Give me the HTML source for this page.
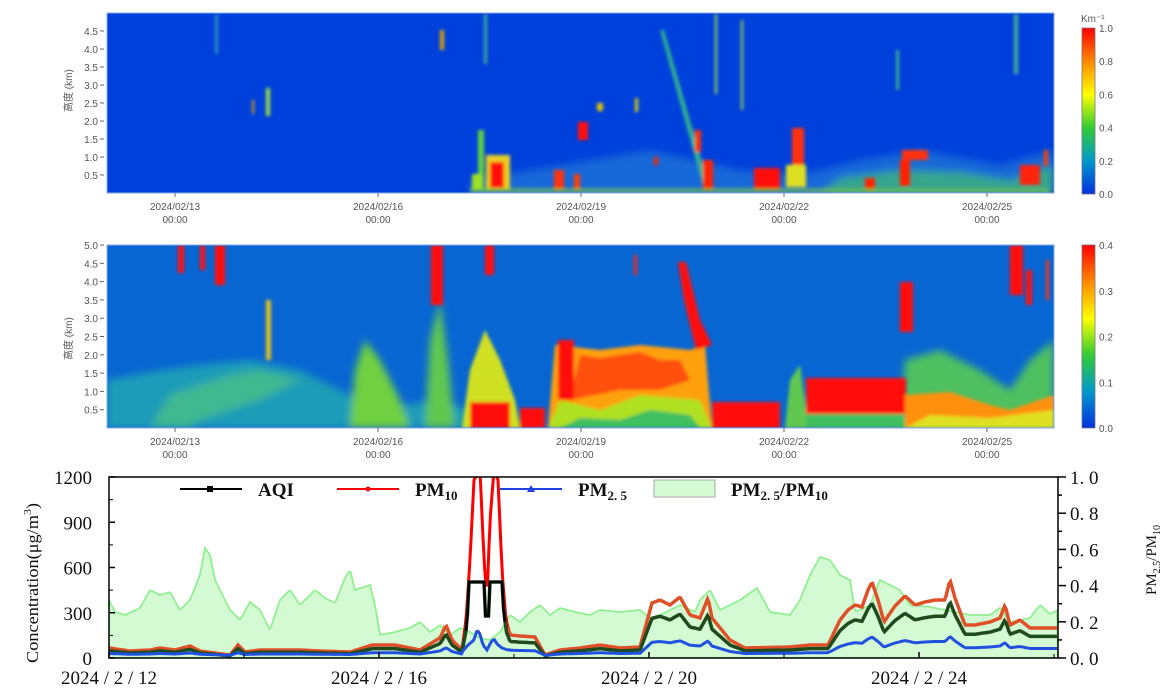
<!DOCTYPE html>
<html><head><meta charset="utf-8"><style>
html,body{margin:0;padding:0;background:#fff;}
svg{display:block;}
.t{font-family:"Liberation Sans","Noto Sans CJK SC",sans-serif;font-size:10px;fill:#555;}
.s{font-family:"Liberation Serif","DejaVu Serif",serif;fill:#111;}
</style></head><body>
<svg id="c" width="1173" height="693" viewBox="0 0 1173 693" xmlns="http://www.w3.org/2000/svg">
<defs>
<linearGradient id="jet" x1="0" y1="1" x2="0" y2="0">
<stop offset="0" stop-color="#0030e0"/><stop offset="0.2" stop-color="#0099cc"/>
<stop offset="0.4" stop-color="#33cc33"/><stop offset="0.6" stop-color="#ffff00"/>
<stop offset="0.8" stop-color="#ff8800"/><stop offset="1" stop-color="#ff0000"/>
</linearGradient>
<filter id="bl" x="-20%" y="-20%" width="140%" height="140%"><feGaussianBlur stdDeviation="1.6"/></filter>
<filter id="bl2" x="-20%" y="-20%" width="140%" height="140%"><feGaussianBlur stdDeviation="4"/></filter>
<clipPath id="p1"><rect x="107" y="13" width="947" height="180"/></clipPath>
<clipPath id="p2"><rect x="107" y="245" width="947" height="183"/></clipPath>
<clipPath id="p3"><rect x="109" y="477" width="949" height="181"/></clipPath>
</defs>

<!-- PANEL 1 -->
<rect x="107" y="13" width="947" height="180" fill="#0040dc"/>
<g clip-path="url(#p1)">
<g filter="url(#bl2)" opacity="0.85">
<polygon points="470,193 470,180 560,165 650,150 740,170 800,175 860,160 920,150 1000,165 1054,150 1054,193" fill="#1a70d8"/>
<polygon points="820,193 840,178 900,170 960,172 1010,180 1054,165 1054,193" fill="#40b880"/>
</g>
<g filter="url(#bl)">
<rect x="266" y="88" width="4" height="28" fill="#a0e040"/>
<rect x="252" y="100" width="2" height="14" fill="#e0a000"/>
<polygon points="660,30 664,30 710,190 704,190" fill="#30b090"/>
<rect x="478" y="130" width="6" height="60" fill="#60d040"/>
<rect x="486" y="155" width="24" height="35" fill="#e8d020"/>
<rect x="490" y="162" width="14" height="26" fill="#ff1010"/>
<rect x="472" y="174" width="10" height="16" fill="#a0e020"/>
<rect x="554" y="170" width="10" height="20" fill="#ff3010"/>
<rect x="574" y="174" width="6" height="16" fill="#ff4000"/>
<rect x="578" y="122" width="10" height="18" fill="#ff1010"/>
<rect x="597" y="103" width="6" height="8" fill="#e0c000"/>
<rect x="635" y="98" width="3" height="14" fill="#e0d000"/>
<rect x="654" y="157" width="4" height="8" fill="#ff2000"/>
<rect x="703" y="160" width="10" height="30" fill="#ff2000"/>
<rect x="695" y="130" width="6" height="22" fill="#ff3000"/>
<rect x="754" y="168" width="26" height="22" fill="#ff1010"/>
<rect x="792" y="128" width="12" height="40" fill="#ff3010"/>
<rect x="786" y="165" width="20" height="22" fill="#e0e020"/>
<rect x="865" y="178" width="10" height="12" fill="#ff2000"/>
<rect x="902" y="150" width="26" height="10" fill="#ff3010"/>
<rect x="900" y="160" width="10" height="26" fill="#ff2000"/>
<rect x="1020" y="165" width="20" height="20" fill="#ff2010"/>
<rect x="1044" y="150" width="4" height="16" fill="#ff4000"/>
<rect x="440" y="30" width="4" height="20" fill="#e0a000"/>
<rect x="484" y="14" width="3" height="50" fill="#40b090"/>
<rect x="715" y="14" width="2" height="80" fill="#a0e040"/>
<rect x="741" y="20" width="2" height="90" fill="#a0e040"/>
<rect x="896" y="50" width="3" height="40" fill="#40b090"/>
<rect x="1014" y="14" width="4" height="60" fill="#40b090"/>
<rect x="215" y="14" width="3" height="40" fill="#2890c0"/>
<rect x="470" y="188" width="580" height="5" fill="#80d040" opacity="0.6"/>
</g>
</g>
<rect x="107" y="13" width="947" height="180" fill="none" stroke="#88aaee" stroke-width="1"/>

<!-- PANEL 2 -->
<rect x="107" y="245" width="947" height="183" fill="#0866d2"/>
<g clip-path="url(#p2)">
<g filter="url(#bl2)">
<polygon points="107,428 107,380 150,372 200,365 250,360 300,370 330,385 360,400 380,428" fill="#1a9cb8"/>
<polygon points="380,428 400,405 440,400 470,410 470,428" fill="#1a9cb8"/>
<polygon points="150,428 170,395 230,375 260,370 300,380 260,400 200,420 190,428" fill="#40b890"/>
<polygon points="350,428 355,370 365,340 380,360 400,400 410,428" fill="#70d040"/>
<polygon points="425,428 430,340 440,300 448,360 455,428" fill="#60c850"/>
<polygon points="900,428 905,360 940,350 980,370 1010,390 1030,360 1054,340 1054,428" fill="#50c060"/>
</g>
<g filter="url(#bl)">
<polygon points="462,428 470,370 485,330 500,360 515,400 520,428" fill="#d0e020"/>
<rect x="470" y="402" width="40" height="26" fill="#ff1010"/>
<rect x="520" y="408" width="25" height="20" fill="#ff1010"/>
<polygon points="548,428 555,345 600,350 640,345 690,350 705,345 712,428" fill="#ffa010"/>
<polygon points="570,400 580,355 600,358 640,352 660,360 680,360 690,380 660,390 620,390" fill="#ff5010"/>
<rect x="558" y="340" width="16" height="60" fill="#ff1010"/>
<polygon points="548,428 560,400 600,410 640,395 700,400 712,428" fill="#b0e020"/>
<polygon points="560,428 580,418 620,420 650,410 690,415 700,428" fill="#40c060"/>
<polygon points="678,262 686,262 700,320 712,345 696,350 684,300" fill="#ff1010"/>
<rect x="712" y="402" width="68" height="26" fill="#ff1010"/>
<polygon points="785,428 790,380 800,365 808,428" fill="#60c850"/>
<rect x="806" y="378" width="100" height="38" fill="#ff1010"/>
<rect x="806" y="414" width="100" height="14" fill="#40c060"/>
<polygon points="905,428 905,395 950,392 990,405 1010,410 1054,395 1054,428" fill="#ff9010"/>
<polygon points="905,428 930,415 990,418 1054,410 1054,428" fill="#e0e020"/>
<rect x="178" y="245" width="6" height="28" fill="#ff1010"/>
<rect x="200" y="245" width="5" height="25" fill="#ff1010"/>
<rect x="215" y="245" width="10" height="40" fill="#ff1010"/>
<rect x="266" y="300" width="5" height="60" fill="#e0c020"/>
<rect x="431" y="245" width="12" height="60" fill="#ff1010"/>
<rect x="485" y="245" width="9" height="30" fill="#ff1010"/>
<rect x="900" y="282" width="13" height="50" fill="#ff1010"/>
<rect x="1010" y="245" width="13" height="50" fill="#ff1010"/>
<rect x="1026" y="270" width="6" height="35" fill="#ff1010"/>
<rect x="1046" y="260" width="3" height="40" fill="#ff3010"/>
<rect x="634" y="255" width="3" height="20" fill="#ff2010"/>
</g>
</g>
<rect x="107" y="245" width="947" height="183" fill="none" stroke="#88aaee" stroke-width="1"/>

<!-- colorbars -->
<rect x="1082" y="28" width="13" height="166" fill="url(#jet)" stroke="#777" stroke-width="0.8"/>
<rect x="1082" y="245" width="13" height="183" fill="url(#jet)" stroke="#777" stroke-width="0.8"/>
<text class="t" x="1081" y="22" font-size="9">Km⁻¹</text>
<g id="cbl"></g>

<text class="t" font-size="11" transform="translate(72,112) rotate(-90)">高度 (km)</text>
<text class="t" font-size="11" transform="translate(72,360) rotate(-90)">高度 (km)</text>
<g id="ax12"></g>

<!-- PANEL 3 -->
<g clip-path="url(#p3)">
<path id="ratio" fill="#d4fad4" stroke="#90f090" stroke-width="1.8"/>
<path id="pm10r" fill="none" stroke="#ff0000" stroke-width="3"/>
<path id="pm10" fill="none" stroke="#e05028" stroke-width="3.5"/>
<path id="aqi" fill="none" stroke="#1e4a1e" stroke-width="3.5"/>
<path id="aqik" fill="none" stroke="#000" stroke-width="2.5"/>
<path id="pm25" fill="none" stroke="#2050e0" stroke-width="3"/>
</g>
<rect x="109" y="477" width="949" height="181" fill="none" stroke="#000" stroke-width="1.5"/>
<g id="ax3"></g>
<line x1="180" y1="489" x2="242" y2="489" stroke="#000" stroke-width="2"/><rect x="207" y="486" width="6" height="6" fill="#000"/>
<text class="s" x="258" y="496" font-size="19" font-weight="bold">AQI</text>
<line x1="337" y1="489" x2="399" y2="489" stroke="#f00" stroke-width="2"/><circle cx="368" cy="489" r="2.5" fill="#f00"/>
<text class="s" x="415" y="496" font-size="19" font-weight="bold">PM<tspan font-size="13" dy="4">10</tspan></text>
<line x1="500" y1="489" x2="562" y2="489" stroke="#2040e0" stroke-width="2"/><polygon points="531,485 535,492 527,492" fill="#2040e0"/>
<text class="s" x="578" y="496" font-size="19" font-weight="bold">PM<tspan font-size="13" dy="4">2. 5</tspan></text>
<rect x="654" y="480" width="61" height="17" fill="#d4fad4" stroke="#aaa" stroke-width="1"/>
<text class="s" x="731" y="496" font-size="19" font-weight="bold">PM<tspan font-size="13" dy="4">2. 5</tspan><tspan dy="-4">/PM</tspan><tspan font-size="13" dy="4">10</tspan></text>
<text class="s" font-size="17" transform="translate(38,583) rotate(-90)" text-anchor="middle" textLength="160" lengthAdjust="spacingAndGlyphs">Concentration(μg/m<tspan font-size="11" dy="-7">3</tspan><tspan dy="7">)</tspan></text>
<text class="s" font-size="15" transform="translate(1156,560) rotate(-90)" text-anchor="middle">PM<tspan font-size="10" dy="4">2.5</tspan><tspan dy="-4">/PM</tspan><tspan font-size="10" dy="4">10</tspan></text>
</svg>
<script>
var NS="http://www.w3.org/2000/svg",svg=document.getElementById('c');
function el(t,a,p,txt){var e=document.createElementNS(NS,t);for(var k in a)e.setAttribute(k,a[k]);if(txt!==undefined)e.textContent=txt;(p||svg).appendChild(e);return e;}
var cb=document.getElementById('cbl');
[0,0.2,0.4,0.6,0.8,1.0].forEach(function(v){var y=194-v*166;el('text',{'class':'t',x:1099,y:y+4,'font-size':'10'},cb,v.toFixed(1));});
[0,0.1,0.2,0.3,0.4].forEach(function(v){var y=428-v/0.4*183;el('text',{'class':'t',x:1099,y:y+4,'font-size':'10'},cb,v.toFixed(1));});
var a=document.getElementById('ax12');
for(var i=1;i<=9;i++){var h=i*0.5;var y=193-h*36;el('line',{x1:100,y1:y,x2:104,y2:y,stroke:'#666'},a);el('text',{'class':'t',x:98,y:y+4,'text-anchor':'end'},a,h.toFixed(1));}
for(var i=1;i<=10;i++){var h=i*0.5;var y=428-h*36.6;el('line',{x1:100,y1:y,x2:104,y2:y,stroke:'#666'},a);el('text',{'class':'t',x:98,y:y+4,'text-anchor':'end'},a,h.toFixed(1));}
['13','16','19','22','25'].forEach(function(d,j){var x=175+j*203;
 [[193,206,219],[428,441,454]].forEach(function(r){el('line',{x1:x,y1:r[0],x2:x,y2:r[0]+4,stroke:'#666'},a);
 el('text',{'class':'t',x:x,y:r[1]+4,'text-anchor':'middle'},a,'2024/02/'+d);el('text',{'class':'t',x:x,y:r[2]+4,'text-anchor':'middle'},a,'00:00');});});
var b=document.getElementById('ax3');
[0,300,600,900,1200].forEach(function(v){var y=658-v*181/1200;el('line',{x1:109,y1:y,x2:115,y2:y,stroke:'#000','stroke-width':1.5},b);el('text',{'class':'s',x:92,y:y+7,'font-size':'19','text-anchor':'end'},b,v);});
for(var v=150;v<1200;v+=300){var y=658-v*181/1200;el('line',{x1:109,y1:y,x2:113,y2:y,stroke:'#000'},b);}
for(var i=0;i<=10;i++){var y=658-i*18.1;el('line',{x1:1058,y1:y,x2:i%2?1062:1066,y2:y,stroke:'#000','stroke-width':1.5},b);
 if(i%2==0)el('text',{'class':'s',x:1070,y:y+7,'font-size':'19'},b,(i/10).toFixed(1).replace('.','. '));}
['2024/2/12','2024/2/16','2024/2/20','2024/2/24'].forEach(function(s,j){var x=109+j*270;el('line',{x1:x,y1:658,x2:x,y2:652,stroke:'#000','stroke-width':1.5},b);
 el('text',{'class':'s',x:x,y:684,'font-size':'19','text-anchor':'middle'},b,s.replace(/\//g,' / '));});
for(var j=0;j<4;j++){var x=109+j*270+135;el('line',{x1:x,y1:658,x2:x,y2:654,stroke:'#000'},b);}
function interp(pts,x){for(var i=1;i<pts.length;i++){if(x<=pts[i][0]){var p=pts[i-1],q=pts[i];var t=(x-p[0])/(q[0]-p[0]);return p[1]+t*(q[1]-p[1]);}}return pts[pts.length-1][1];}
var R=[[109,600],[115,612],[125,615],[140,608],[150,590],[160,595],[170,592],[180,610],[190,600],[200,575],[205,548],[210,555],[215,580],[225,600],[230,610],[240,620],[250,602],[260,610],[270,630],[280,600],[290,590],[300,605],[315,590],[325,598],[335,603],[345,578],[350,570],[355,590],[370,585],[375,605],[380,635],[395,632],[410,628],[420,622],[430,632],[440,625],[450,635],[460,628],[470,632],[480,638],[490,640],[500,632],[510,615],[520,622],[530,612],[540,605],[550,615],[560,608],[575,612],[590,615],[600,610],[620,612],[640,610],[650,618],[660,615],[680,605],[695,612],[700,600],[710,590],[720,610],[740,600],[757,588],[770,612],[790,615],[800,600],[810,575],[820,557],[830,560],[840,575],[850,580],[855,612],[870,605],[880,580],[890,585],[900,590],[910,605],[930,607],[945,610],[955,612],[970,615],[990,615],[1000,608],[1010,622],[1030,618],[1040,605],[1050,614],[1058,610]];
var P=[[109,648],[130,651],[150,650],[160,648],[175,650],[190,646],[200,651],[215,653],[230,655],[238,645],[245,652],[260,650],[290,650],[300,650],[320,651],[350,652],[372,645],[395,645],[420,650],[440,638],[446,625],[452,640],[462,650],[466,620],[470,560],[474,480],[480,470],[484,560],[487,598],[490,520],[494,470],[498,480],[502,570],[506,620],[510,635],[520,636],[535,637],[545,655],[560,650],[580,648],[600,645],[620,648],[640,647],[652,603],[660,600],[670,605],[680,597],[690,615],[700,618],[708,598],[712,618],[730,640],[745,648],[790,647],[810,645],[828,645],[840,620],[848,610],[855,605],[862,607],[868,590],[872,582],[878,600],[884,622],[895,606],[905,596],[915,605],[925,602],[935,600],[945,600],[950,580],[955,598],[965,625],[975,625],[990,622],[1000,618],[1005,605],[1010,625],[1020,620],[1030,628],[1058,628]];
function seg(f,x0,x1){var d='';x0=x0||109;x1=x1||1058;for(var x=x0;x<=x1;x+=1.5){var y=f(x);d+=(d?'L':'M')+x.toFixed(1)+','+y.toFixed(1);}return d;}
document.getElementById('ratio').setAttribute('d',seg(function(x){return interp(R,x);})+'L1058,658L109,658Z');
function pm(x){return interp(P,x);}
document.getElementById('pm10').setAttribute('d',seg(pm,109,464)+seg(pm,508,1058).replace(/^M/,'M'));
document.getElementById('pm10r').setAttribute('d',seg(pm,462,510));
function aq(x){var h=658-pm(x);var v=658-h*0.72;if(x>=468&&x<=502){v=582;if(x>484&&x<490)v=616;}if(v<582)v=582;return v;}
document.getElementById('aqi').setAttribute('d',seg(aq));
document.getElementById('aqik').setAttribute('d',seg(aq,466,506));
var S=[[462,652],[468,645],[474,640],[477,630],[480,634],[483,645],[487,650],[491,642],[494,639],[497,644],[502,648],[508,650]];
document.getElementById('pm25').setAttribute('d',seg(function(x){if(x>=462&&x<=508)return interp(S,x);var h=658-pm(x);return 658-(2+h*0.25);}));
</script>
</body></html>
